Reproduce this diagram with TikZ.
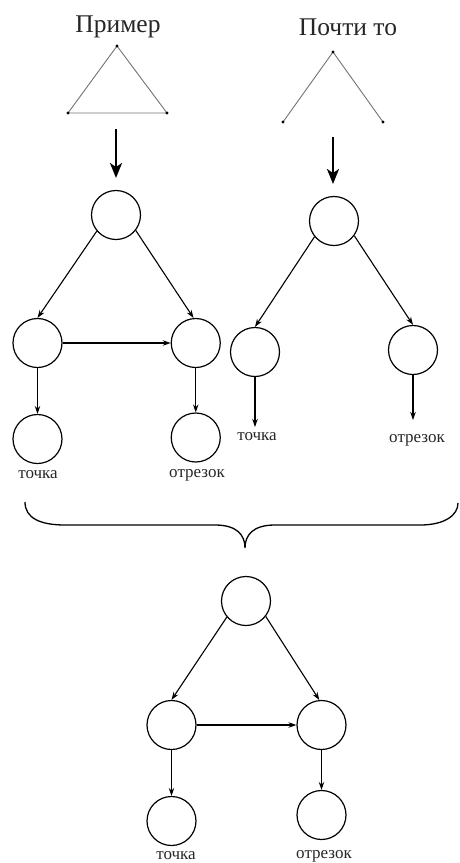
\documentclass[tikz,border=0pt]{standalone}
\usepackage{fontspec}
\setmainfont{Liberation Serif}
\usetikzlibrary{arrows.meta}
\begin{document}
\begin{tikzpicture}[x=1pt,y=-1pt,
  vert/.style={circle,draw,line width=1.2pt,minimum size=49pt,inner sep=0pt},
  edge/.style={line width=1.1pt,-{Stealth[length=8pt,width=5.5pt]}},
  bigarrow/.style={line width=2.3pt,-{Stealth[length=15pt,width=12pt,inset=4pt]}},
  title/.style={font=\fontsize{25.5}{28}\selectfont,text=black!85},
  lbl/.style={font=\fontsize{17}{19}\selectfont,text=black!85},
  side/.style={draw=black!55,line width=0.9pt},
  dot/.style={fill=black,radius=1.6pt}]
\useasboundingbox (0,0) rectangle (459,863);
% titles
\node[title] (ttl1) at (118,27) {Пример};
\node[title] (ttl2) at (348,27) {Почти то};
% triangle (example)
\coordinate (pa) at (117,46);
\coordinate (pb) at (68,113);
\coordinate (pc) at (167,113);
\draw[side] (pa) -- (pb) -- (pc) -- cycle;
\foreach \p in {pa,pb,pc} \fill[dot] (\p) circle;
% near miss
\coordinate (qa) at (333,52);
\coordinate (qb) at (283,122);
\coordinate (qc) at (383,122);
\draw[side] (qb) -- (qa) -- (qc);
\foreach \p in {qa,qb,qc} \fill[dot] (\p) circle;
% big arrows
\coordinate (a1s) at (116,129);
\coordinate (a1e) at (116,178);
\coordinate (a2s) at (333,137);
\coordinate (a2e) at (333,184);
\draw[bigarrow] (a1s) -- (a1e);
\draw[bigarrow] (a2s) -- (a2e);
% left graph
\node[vert] (lt) at (116,215) {};
\node[vert] (lml) at (37.5,343) {};
\node[vert] (lmr) at (195.75,343) {};
\node[vert] (lbl) at (37.5,439) {};
\node[vert] (lbr) at (195.75,437.5) {};
\node[lbl] (lbltxt) at (38,475) {точка};
\node[lbl] (lbrtxt) at (197,475) {отрезок};
\draw[edge] (lt.220) -- (lml.north);
\draw[edge] (lt.322) -- (lmr.95);
\draw[edge] (lml.east) -- (lmr.west);
\draw[edge] (lml.south) -- (lbl.north);
\draw[edge] (lmr.south) -- (lbr.north);
% right graph
\node[vert] (rt) at (334,221) {};
\node[vert] (rl) at (255,352) {};
\node[vert] (rr) at (413,350) {};
\coordinate (rle) at (255,427);
\coordinate (rre) at (413,420);
\node[lbl] (rltxt) at (257,437) {точка};
\node[lbl] (rrtxt) at (417,440) {отрезок};
\draw[edge] (rt.219) -- (rl.north);
\draw[edge] (rt.324) -- (rr.north);
\draw[edge] (rl.south) -- (rle);
\draw[edge] (rr.south) -- (rre);
% brace
\draw[line width=1.3pt] (25,502) .. controls (25,518) and (40,525) .. (65,525)
  -- (215,525) .. controls (237,525) and (245,535) .. (245,548)
  .. controls (245,535) and (253,525) .. (275,525)
  -- (420,525) .. controls (445,525) and (458,515) .. (458,503);
% bottom graph
\node[vert] (bt) at (246,601) {};
\node[vert] (bml) at (171.5,725) {};
\node[vert] (bmr) at (321.5,725) {};
\node[vert] (bbl) at (171.5,821) {};
\node[vert] (bbr) at (321.5,815) {};
\node[lbl] (bbltxt) at (176,856) {точка};
\node[lbl] (bbrtxt) at (324,856) {отрезок};
\draw[edge] (bt.220) -- (bml.north);
\draw[edge] (bt.322) -- (bmr.95);
\draw[edge] (bml.east) -- (bmr.west);
\draw[edge] (bml.south) -- (bbl.north);
\draw[edge] (bmr.south) -- (bbr.north);
\end{tikzpicture}
\end{document}
